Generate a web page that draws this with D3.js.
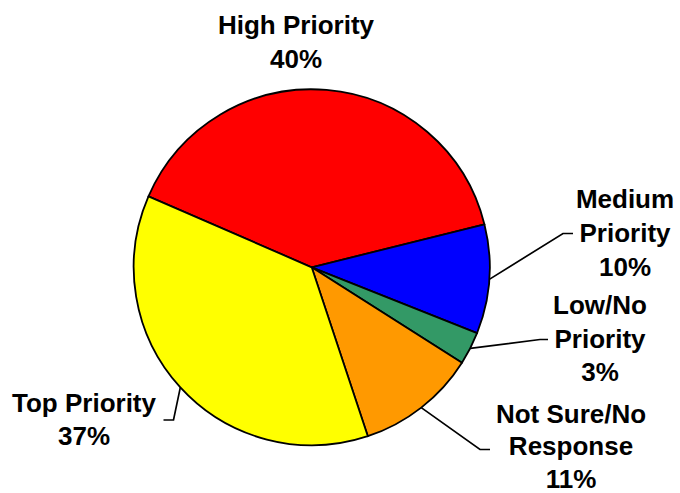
<!DOCTYPE html>
<html>
<head>
<meta charset="utf-8">
<script src="https://cdn.jsdelivr.net/npm/d3@7"></script>
<style>
  html, body { margin: 0; padding: 0; background: #ffffff; }
  svg { display: block; }
  .lbl { font-family: "Liberation Sans", Arial, Helvetica, sans-serif; font-weight: bold; font-size: 26px; fill: #000; }
</style>
</head>
<body>
<svg id="chart" width="680" height="493"></svg>
<script>
// Survey responses: priority level
const categories = ["High Priority", "Medium Priority", "Low/No Priority", "Not Sure/No Response", "Top Priority"];
const values = [40, 10, 3, 11, 37];
const colors = ["#FF0000", "#0000FF", "#339966", "#FF9900", "#FFFF00"];
// Label text, one array of lines per slice
const labelLines = [
  ["High Priority", "40%"],
  ["Medium", "Priority", "10%"],
  ["Low/No", "Priority", "3%"],
  ["Not Sure/No", "Response", "11%"],
  ["Top Priority", "37%"]
];

// Layout
const W = 680, H = 493;
const cx = 311.7, cy = 267.3, R = 178;
// Label block placement: centre x, first baseline y, line gap, and elbow of the leader line
const labelLayout = [
  { x: 296, y: 34, gap: 33.5, leader: null },
  { x: 625, y: 208, gap: 34, leader: { elbow: [563, 233.5], end: [573, 233.5] } },
  { x: 600, y: 314, gap: 33.5, leader: { elbow: [540, 339.5], end: [548, 339.5] } },
  { x: 571, y: 422.5, gap: 32.5, leader: { elbow: [480, 449.5], end: [490, 449.5] } },
  { x: 84, y: 411.5, gap: 33.5, leader: { elbow: [173.5, 420], end: [163.5, 420] } }
];

const svg = d3.select("#chart");
const g = svg.append("g").attr("transform", `translate(${cx},${cy})`);

const data = categories.map((c, i) => ({ name: c, value: values[i], color: colors[i], i }));

const pie = d3.pie()
  .sort(null)
  .value(d => d.value)
  .startAngle(-66.5 * Math.PI / 180)
  .endAngle((360 - 66.5) * Math.PI / 180);

const arcs = pie(data);
const arc = d3.arc().innerRadius(0).outerRadius(R);
const rim = d3.arc().innerRadius(R).outerRadius(R);

g.selectAll("path.slice")
  .data(arcs)
  .join("path")
  .attr("class", "slice")
  .attr("d", arc)
  .attr("fill", d => d.data.color)
  .attr("stroke", "#000")
  .attr("stroke-width", 1.8)
  .attr("stroke-linejoin", "round");

// Leader lines from the rim at each slice's mid-angle
arcs.forEach((a, i) => {
  const L = labelLayout[i].leader;
  if (!L) return;
  const [px, py] = rim.centroid(a);
  svg.append("polyline")
    .attr("points", [[px + cx, py + cy], L.elbow, L.end].map(p => p.join(",")).join(" "))
    .attr("fill", "none")
    .attr("stroke", "#000")
    .attr("stroke-width", 1.7);
});

// Labels
labelLines.forEach((lines, i) => {
  const pos = labelLayout[i];
  const t = svg.append("text")
    .attr("class", "lbl")
    .attr("text-anchor", "middle");
  lines.forEach((ln, k) => {
    t.append("tspan")
      .attr("x", pos.x)
      .attr("y", pos.y + k * pos.gap)
      .text(ln);
  });
});
</script>
</body>
</html>
